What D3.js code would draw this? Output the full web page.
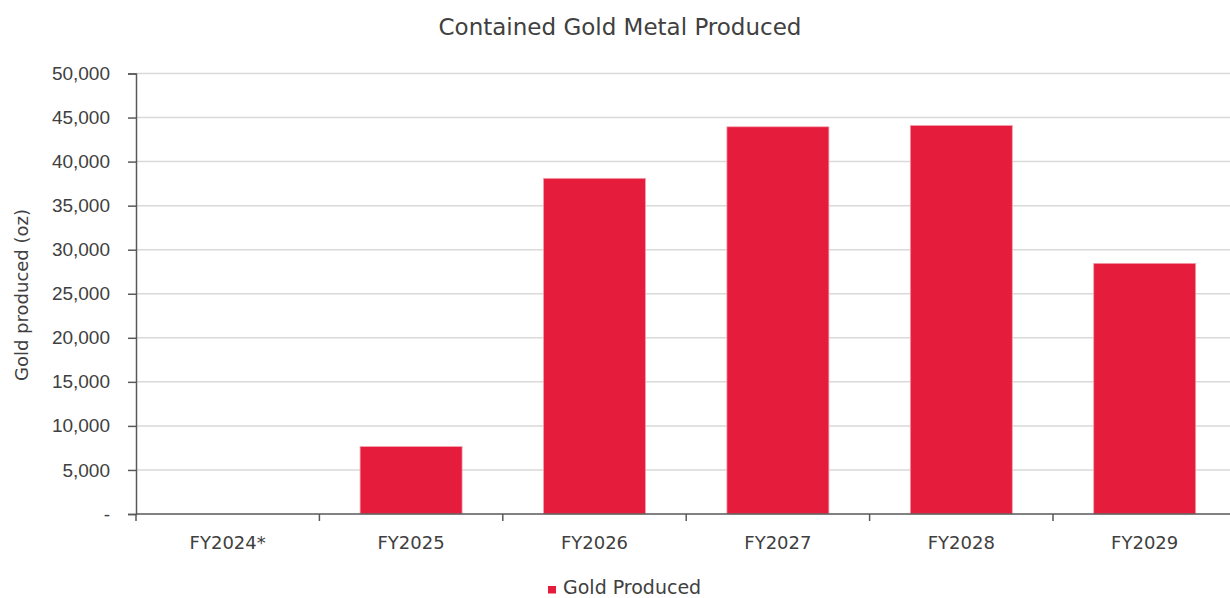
<!DOCTYPE html>
<html>
<head>
<meta charset="utf-8">
<script src="https://cdn.jsdelivr.net/npm/d3@7"></script>
<style>
  html, body { margin: 0; padding: 0; background: #fff; }
  svg { display: block; font-family: "DejaVu Sans", sans-serif; }
</style>
</head>
<body>
<svg id="chart" width="1230" height="598"></svg>
<script>
// Fiscal years and contained gold output (oz)
const categories = ["FY2024*", "FY2025", "FY2026", "FY2027", "FY2028", "FY2029"];
const goldProduced = [0, 7650, 38100, 43950, 44100, 28450];
const yTicks = [0, 5000, 10000, 15000, 20000, 25000, 30000, 35000, 40000, 45000, 50000];

const svg = d3.select("#chart");
const textColor = "#404040";
const barColor = "#E61C3C";

const plot = { left: 136, right: 1236.4, top: 73.5, bottom: 514 };

const x = d3.scaleBand()
  .domain(categories)
  .range([plot.left, plot.right])
  .paddingInner(0.444)
  .paddingOuter(0.222);

const y = d3.scaleLinear()
  .domain([0, 50000])
  .range([plot.bottom, plot.top]);

const fmt = d3.format(",");

// Horizontal gridlines
svg.append("g")
  .selectAll("line")
  .data(yTicks.filter(d => d > 0))
  .join("line")
  .attr("x1", plot.left)
  .attr("x2", plot.right)
  .attr("y1", d => y(d))
  .attr("y2", d => y(d))
  .attr("stroke", "#d9d9d9")
  .attr("stroke-width", 1.5);

// Bars
svg.append("g")
  .selectAll("rect")
  .data(categories.map((c, i) => ({ c, v: goldProduced[i] })))
  .join("rect")
  .attr("x", d => x(d.c))
  .attr("width", x.bandwidth())
  .attr("y", d => y(d.v))
  .attr("height", d => y(0) - y(d.v))
  .attr("fill", barColor)
  .attr("stroke", "#f3a0ad")
  .attr("stroke-width", d => d.v > 0 ? 0.75 : 0);

// Y axis
const yAxis = svg.append("g")
  .attr("transform", `translate(${plot.left},0)`)
  .call(d3.axisLeft(y)
    .tickValues(yTicks)
    .tickSize(8)
    .tickPadding(18)
    .tickFormat(d => d === 0 ? "-" : fmt(d)));
yAxis.select(".domain").attr("stroke", "#595959").attr("stroke-width", 1.5);
yAxis.selectAll(".tick line").attr("stroke", "#595959").attr("stroke-width", 1.5);
yAxis.selectAll(".tick text")
  .attr("fill", textColor)
  .style("font-size", "19px");

// X axis
const xBoundaries = d3.scaleLinear().domain([0, categories.length]).range([plot.left, plot.right]);
const xAxisG = svg.append("g");
xAxisG.append("line")
  .attr("x1", plot.left).attr("x2", plot.right)
  .attr("y1", plot.bottom).attr("y2", plot.bottom)
  .attr("stroke", "#595959").attr("stroke-width", 1.5);
xAxisG.selectAll("line.tick")
  .data(d3.range(categories.length + 1))
  .join("line")
  .attr("class", "tick")
  .attr("x1", d => xBoundaries(d)).attr("x2", d => xBoundaries(d))
  .attr("y1", plot.bottom).attr("y2", plot.bottom + 7)
  .attr("stroke", "#595959").attr("stroke-width", 1.5);
xAxisG.selectAll("text")
  .data(categories)
  .join("text")
  .attr("x", d => x(d) + x.bandwidth() / 2)
  .attr("y", 549)
  .attr("text-anchor", "middle")
  .attr("fill", textColor)
  .style("font-size", "18px")
  .text(d => d);

// Y axis title
svg.append("text")
  .attr("transform", "translate(28,295) rotate(-90)")
  .attr("text-anchor", "middle")
  .attr("fill", textColor)
  .style("font-size", "18px")
  .text("Gold produced (oz)");

// Chart title
svg.append("text")
  .attr("x", 620)
  .attr("y", 35)
  .attr("text-anchor", "middle")
  .attr("fill", textColor)
  .style("font-size", "23px")
  .text("Contained Gold Metal Produced");

// Legend
const legend = svg.append("g");
legend.append("rect")
  .attr("x", 548).attr("y", 586)
  .attr("width", 8).attr("height", 7.5)
  .attr("fill", barColor);
legend.append("text")
  .attr("x", 563).attr("y", 594)
  .attr("fill", textColor)
  .style("font-size", "19px")
  .text("Gold Produced");
</script>
</body>
</html>
